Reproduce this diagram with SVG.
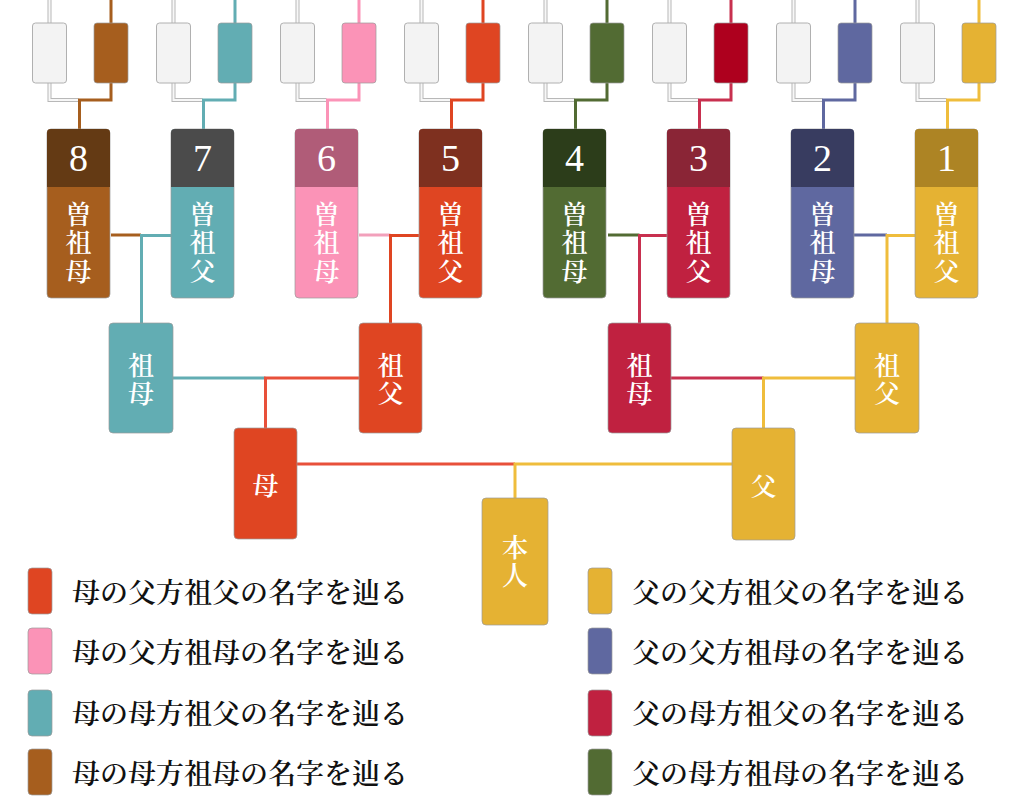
<svg xmlns="http://www.w3.org/2000/svg" width="1024" height="796" viewBox="0 0 1024 796">
<defs>
<style>
.bx{stroke:#9a9a9a;stroke-width:1;stroke-opacity:0.7}
.wb{fill:#f3f3f3;stroke:#b0b0b0;stroke-width:1}
.ln{fill:none;stroke-width:3;stroke-linejoin:miter}
.wo{fill:none;stroke:#b8b8b8;stroke-width:4}
.wi{fill:none;stroke:#f7f7f7;stroke-width:2}
.num{font-family:"Liberation Serif","Noto Serif CJK JP","Noto Sans CJK JP",serif;font-size:38px;fill:#fff;text-anchor:middle;dominant-baseline:central}
.kj{font-family:"Noto Serif CJK JP","Noto Sans CJK JP",serif;font-size:26px;font-weight:600;fill:#fff;text-anchor:middle;dominant-baseline:central}
.lg{font-family:"Noto Serif CJK JP","Noto Sans CJK JP",serif;font-size:28px;font-weight:600;fill:#111;dominant-baseline:central}
</style>
</defs>
<rect width="1024" height="796" fill="#fff"/>

<g id="connectors">
  <path class="wo" d="M49.5,0V23M49.5,83V100H78.5M173.5,0V23M173.5,83V100H202.5M297.5,0V23M297.5,83V100H326.5M421.5,0V23M421.5,83V100H450.5M545.5,0V23M545.5,83V100H574.5M669.5,0V23M669.5,83V100H698.5M793.5,0V23M793.5,83V100H822.5M917.5,0V23M917.5,83V100H946.5"/>
  <path class="wi" d="M49.5,0V23M49.5,83V100H78.5M173.5,0V23M173.5,83V100H202.5M297.5,0V23M297.5,83V100H326.5M421.5,0V23M421.5,83V100H450.5M545.5,0V23M545.5,83V100H574.5M669.5,0V23M669.5,83V100H698.5M793.5,0V23M793.5,83V100H822.5M917.5,0V23M917.5,83V100H946.5"/>
  <path class="ln" stroke="#a65e1e" d="M111,0V23M111,83V100H79.5V129"/>
  <path class="ln" stroke="#62adb3" d="M235,0V23M235,83V100H203.5V129"/>
  <path class="ln" stroke="#fb93b7" d="M359,0V23M359,83V100H327.5V129"/>
  <path class="ln" stroke="#df4522" d="M483,0V23M483,83V100H451.5V129"/>
  <path class="ln" stroke="#526b33" d="M607,0V23M607,83V100H575.5V129"/>
  <path class="ln" stroke="#c8304f" d="M731,0V23M731,83V100H699.5V129"/>
  <path class="ln" stroke="#5f68a0" d="M855,0V23M855,83V100H823.5V129"/>
  <path class="ln" stroke="#efbd3c" d="M979,0V23M979,83V100H947.5V129"/>
  <path class="ln" stroke="#a65e1e" d="M111,235H141"/>
  <path class="ln" stroke="#62adb3" d="M172,235.5H141.5V323"/>
  <path class="ln" stroke="#f2a0bb" d="M359,235H390.5"/>
  <path class="ln" stroke="#df4522" d="M419,235.5H390.5V323"/>
  <path class="ln" stroke="#526b33" d="M608,235H639.5"/>
  <path class="ln" stroke="#c8304f" d="M668,235.5H639.5V323"/>
  <path class="ln" stroke="#5f68a0" d="M854,235H887"/>
  <path class="ln" stroke="#efbd3c" d="M915,235.5H887V323"/>
  <path class="ln" stroke="#62adb3" d="M173,378H265.5"/>
  <path class="ln" stroke="#e8503a" d="M359,378H265.5V428"/>
  <path class="ln" stroke="#c8304f" d="M671,378H763.5"/>
  <path class="ln" stroke="#efbd3c" d="M855,378H763.5V428"/>
  <path class="ln" stroke="#e8503a" d="M297,464H515"/>
  <path class="ln" stroke="#efbd3c" d="M732,464H515V498"/>
</g>

<g id="top-boxes">
  <rect class="wb" x="32.5" y="23" width="34" height="60" rx="3"/>
  <rect class="bx" fill="#a65e1e" x="94" y="23" width="34" height="60" rx="3"/>
  <rect class="wb" x="156.5" y="23" width="34" height="60" rx="3"/>
  <rect class="bx" fill="#62adb3" x="218" y="23" width="34" height="60" rx="3"/>
  <rect class="wb" x="280.5" y="23" width="34" height="60" rx="3"/>
  <rect class="bx" fill="#fb93b7" x="342" y="23" width="34" height="60" rx="3"/>
  <rect class="wb" x="404.5" y="23" width="34" height="60" rx="3"/>
  <rect class="bx" fill="#df4522" x="466" y="23" width="34" height="60" rx="3"/>
  <rect class="wb" x="528.5" y="23" width="34" height="60" rx="3"/>
  <rect class="bx" fill="#526b33" x="590" y="23" width="34" height="60" rx="3"/>
  <rect class="wb" x="652.5" y="23" width="34" height="60" rx="3"/>
  <rect class="bx" fill="#ae001e" x="714" y="23" width="34" height="60" rx="3"/>
  <rect class="wb" x="776.5" y="23" width="34" height="60" rx="3"/>
  <rect class="bx" fill="#5f68a0" x="838" y="23" width="34" height="60" rx="3"/>
  <rect class="wb" x="900.5" y="23" width="34" height="60" rx="3"/>
  <rect class="bx" fill="#e5b233" x="962" y="23" width="34" height="60" rx="3"/>
</g>

<g id="ggp8">
  <rect class="bx" fill="#a65e1e" x="47" y="129" width="63" height="169" rx="4"/>
  <path fill="#643a14" d="M47,187V133Q47,129 51,129H106Q110,129 110,133V187Z"/>
  <text class="num" x="78.5" y="158">8</text>
  <text class="kj" x="78.5" y="212">曽</text>
  <text class="kj" x="78.5" y="240.5">祖</text>
  <text class="kj" x="78.5" y="269">母</text>
</g>
<g id="ggp7">
  <rect class="bx" fill="#62adb3" x="171" y="129" width="63" height="169" rx="4"/>
  <path fill="#4b4b4b" d="M171,187V133Q171,129 175,129H230Q234,129 234,133V187Z"/>
  <text class="num" x="202.5" y="158">7</text>
  <text class="kj" x="202.5" y="212">曽</text>
  <text class="kj" x="202.5" y="240.5">祖</text>
  <text class="kj" x="202.5" y="269">父</text>
</g>
<g id="ggp6">
  <rect class="bx" fill="#fb93b7" x="295" y="129" width="63" height="169" rx="4"/>
  <path fill="#b05c78" d="M295,187V133Q295,129 299,129H354Q358,129 358,133V187Z"/>
  <text class="num" x="326.5" y="158">6</text>
  <text class="kj" x="326.5" y="212">曽</text>
  <text class="kj" x="326.5" y="240.5">祖</text>
  <text class="kj" x="326.5" y="269">母</text>
</g>
<g id="ggp5">
  <rect class="bx" fill="#df4522" x="419" y="129" width="63" height="169" rx="4"/>
  <path fill="#7e301f" d="M419,187V133Q419,129 423,129H478Q482,129 482,133V187Z"/>
  <text class="num" x="450.5" y="158">5</text>
  <text class="kj" x="450.5" y="212">曽</text>
  <text class="kj" x="450.5" y="240.5">祖</text>
  <text class="kj" x="450.5" y="269">父</text>
</g>
<g id="ggp4">
  <rect class="bx" fill="#526b33" x="543" y="129" width="63" height="169" rx="4"/>
  <path fill="#2c3d1a" d="M543,187V133Q543,129 547,129H602Q606,129 606,133V187Z"/>
  <text class="num" x="574.5" y="158">4</text>
  <text class="kj" x="574.5" y="212">曽</text>
  <text class="kj" x="574.5" y="240.5">祖</text>
  <text class="kj" x="574.5" y="269">母</text>
</g>
<g id="ggp3">
  <rect class="bx" fill="#c02140" x="667" y="129" width="63" height="169" rx="4"/>
  <path fill="#8a2536" d="M667,187V133Q667,129 671,129H726Q730,129 730,133V187Z"/>
  <text class="num" x="698.5" y="158">3</text>
  <text class="kj" x="698.5" y="212">曽</text>
  <text class="kj" x="698.5" y="240.5">祖</text>
  <text class="kj" x="698.5" y="269">父</text>
</g>
<g id="ggp2">
  <rect class="bx" fill="#5f68a0" x="791" y="129" width="63" height="169" rx="4"/>
  <path fill="#383c60" d="M791,187V133Q791,129 795,129H850Q854,129 854,133V187Z"/>
  <text class="num" x="822.5" y="158">2</text>
  <text class="kj" x="822.5" y="212">曽</text>
  <text class="kj" x="822.5" y="240.5">祖</text>
  <text class="kj" x="822.5" y="269">母</text>
</g>
<g id="ggp1">
  <rect class="bx" fill="#e5b233" x="915" y="129" width="63" height="169" rx="4"/>
  <path fill="#ad8424" d="M915,187V133Q915,129 919,129H974Q978,129 978,133V187Z"/>
  <text class="num" x="946.5" y="158">1</text>
  <text class="kj" x="946.5" y="212">曽</text>
  <text class="kj" x="946.5" y="240.5">祖</text>
  <text class="kj" x="946.5" y="269">父</text>
</g>

<g id="gp-mm">
  <rect class="bx" fill="#62adb3" x="109" y="323" width="64" height="110" rx="4"/>
  <text class="kj" x="141" y="363">祖</text>
  <text class="kj" x="141" y="391">母</text>
</g>
<g id="gp-mf">
  <rect class="bx" fill="#df4522" x="359" y="323" width="63" height="110" rx="4"/>
  <text class="kj" x="390.5" y="363">祖</text>
  <text class="kj" x="390.5" y="391">父</text>
</g>
<g id="gp-fm">
  <rect class="bx" fill="#c02140" x="608" y="323" width="63" height="110" rx="4"/>
  <text class="kj" x="639.5" y="363">祖</text>
  <text class="kj" x="639.5" y="391">母</text>
</g>
<g id="gp-ff">
  <rect class="bx" fill="#e5b233" x="855" y="323" width="64" height="110" rx="4"/>
  <text class="kj" x="887" y="363">祖</text>
  <text class="kj" x="887" y="391">父</text>
</g>

<g id="mother">
  <rect class="bx" fill="#df4522" x="234" y="428" width="63" height="111" rx="4"/>
  <text class="kj" x="265.5" y="483">母</text>
</g>
<g id="father">
  <rect class="bx" fill="#e5b233" x="732" y="428" width="63" height="112" rx="4"/>
  <text class="kj" x="763.5" y="484">父</text>
</g>
<g id="self">
  <rect class="bx" fill="#e5b233" x="482" y="498" width="66" height="127" rx="4"/>
  <text class="kj" x="515" y="545">本</text>
  <text class="kj" x="515" y="573">人</text>
</g>

<g id="legend">
  <rect class="bx" fill="#df4522" x="28" y="568" width="24" height="46" rx="4"/>
  <text class="lg" x="72" y="591">母の父方祖父の名字を辿る</text>
  <rect class="bx" fill="#fb93b7" x="28" y="628" width="24" height="46" rx="4"/>
  <text class="lg" x="72" y="651">母の父方祖母の名字を辿る</text>
  <rect class="bx" fill="#62adb3" x="28" y="690" width="24" height="46" rx="4"/>
  <text class="lg" x="72" y="712">母の母方祖父の名字を辿る</text>
  <rect class="bx" fill="#a65e1e" x="28" y="749" width="24" height="46" rx="4"/>
  <text class="lg" x="72" y="772">母の母方祖母の名字を辿る</text>

  <rect class="bx" fill="#e5b233" x="588" y="568" width="24" height="46" rx="4"/>
  <text class="lg" x="632" y="591">父の父方祖父の名字を辿る</text>
  <rect class="bx" fill="#5f68a0" x="588" y="628" width="24" height="46" rx="4"/>
  <text class="lg" x="632" y="651">父の父方祖母の名字を辿る</text>
  <rect class="bx" fill="#c02140" x="588" y="690" width="24" height="46" rx="4"/>
  <text class="lg" x="632" y="712">父の母方祖父の名字を辿る</text>
  <rect class="bx" fill="#526b33" x="588" y="749" width="24" height="46" rx="4"/>
  <text class="lg" x="632" y="772">父の母方祖母の名字を辿る</text>
</g>
</svg>
